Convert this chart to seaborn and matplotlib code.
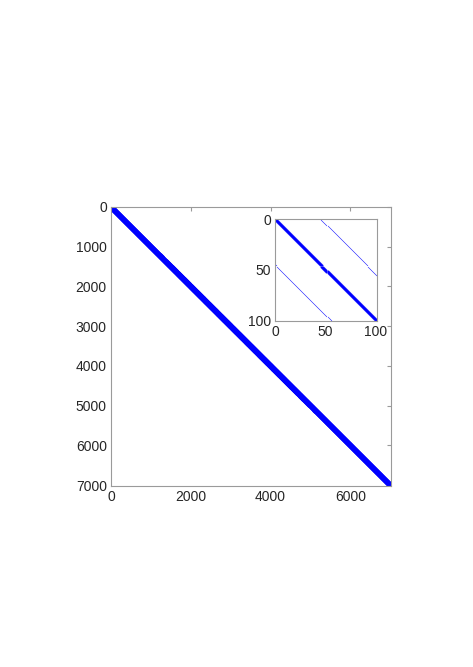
import numpy as np
import pandas as pd
import matplotlib
matplotlib.use("Agg")
import matplotlib.pyplot as plt
import seaborn as sns

# sparsity pattern: banded matrix, grid width 45
n_main = 7020
n_zoom = 100
diag_offsets = [-1, 0, 1]
far_offsets = [-45, 45]
main_xticks = [0, 2000, 4000, 6000]
main_yticks = [0, 1000, 2000, 3000, 4000, 5000, 6000, 7000]
zoom_ticks = [0, 50, 100]


def band_entries(n, offsets):
    """Row/col indices (1-based) of nonzeros on the given diagonals"""
    rows, cols = [], []
    for k in offsets:
        i = np.arange(1, n + 1)
        j = i + k
        keep = (j >= 1) & (j <= n)
        rows.append(i[keep])
        cols.append(j[keep])
    return pd.DataFrame({"row": np.concatenate(rows), "col": np.concatenate(cols)})


def style_axes(ax, n, xticks, yticks, mirror=True):
    ax.set_xlim(0, n + 1)
    ax.set_ylim(n + 1, 0)
    ax.set_xticks(xticks)
    ax.set_yticks(yticks)
    ax.set_xlabel("")
    ax.set_ylabel("")
    ax.tick_params(direction="in", top=mirror, right=mirror, length=3,
                   color="#9a9a9a", labelcolor="#262626", labelsize=10, pad=3)
    for s in ax.spines.values():
        s.set_color("#9a9a9a")
        s.set_linewidth(0.8)
        s.set_visible(True)


sns.set_style("white")
plt.rcParams["font.family"] = ["Liberation Sans", "DejaVu Sans"]

fig = plt.figure(figsize=(4.73, 6.67), dpi=100)
ax = fig.add_axes([0.2347, 0.2714, 0.592, 0.4183])
main_df = band_entries(n_main, diag_offsets + far_offsets)
sns.scatterplot(data=main_df, x="col", y="row", ax=ax, s=2, marker="o",
                color="#0000ff", linewidth=0, legend=False)
style_axes(ax, n_main, main_xticks, main_yticks)

axin = fig.add_axes([0.5814, 0.5187, 0.2156, 0.1529])
sns.scatterplot(data=band_entries(n_zoom, far_offsets), x="col", y="row", ax=axin,
                s=0.8, marker="o", color="#6060ff", linewidth=0, legend=False)
sns.scatterplot(data=band_entries(n_zoom, diag_offsets), x="col", y="row", ax=axin,
                s=2.0, marker="o", color="#0000ff", linewidth=0, legend=False)
style_axes(axin, n_zoom, zoom_ticks, zoom_ticks, mirror=False)
axin.set_facecolor("white")

fig.savefig("out.png", dpi=100)
